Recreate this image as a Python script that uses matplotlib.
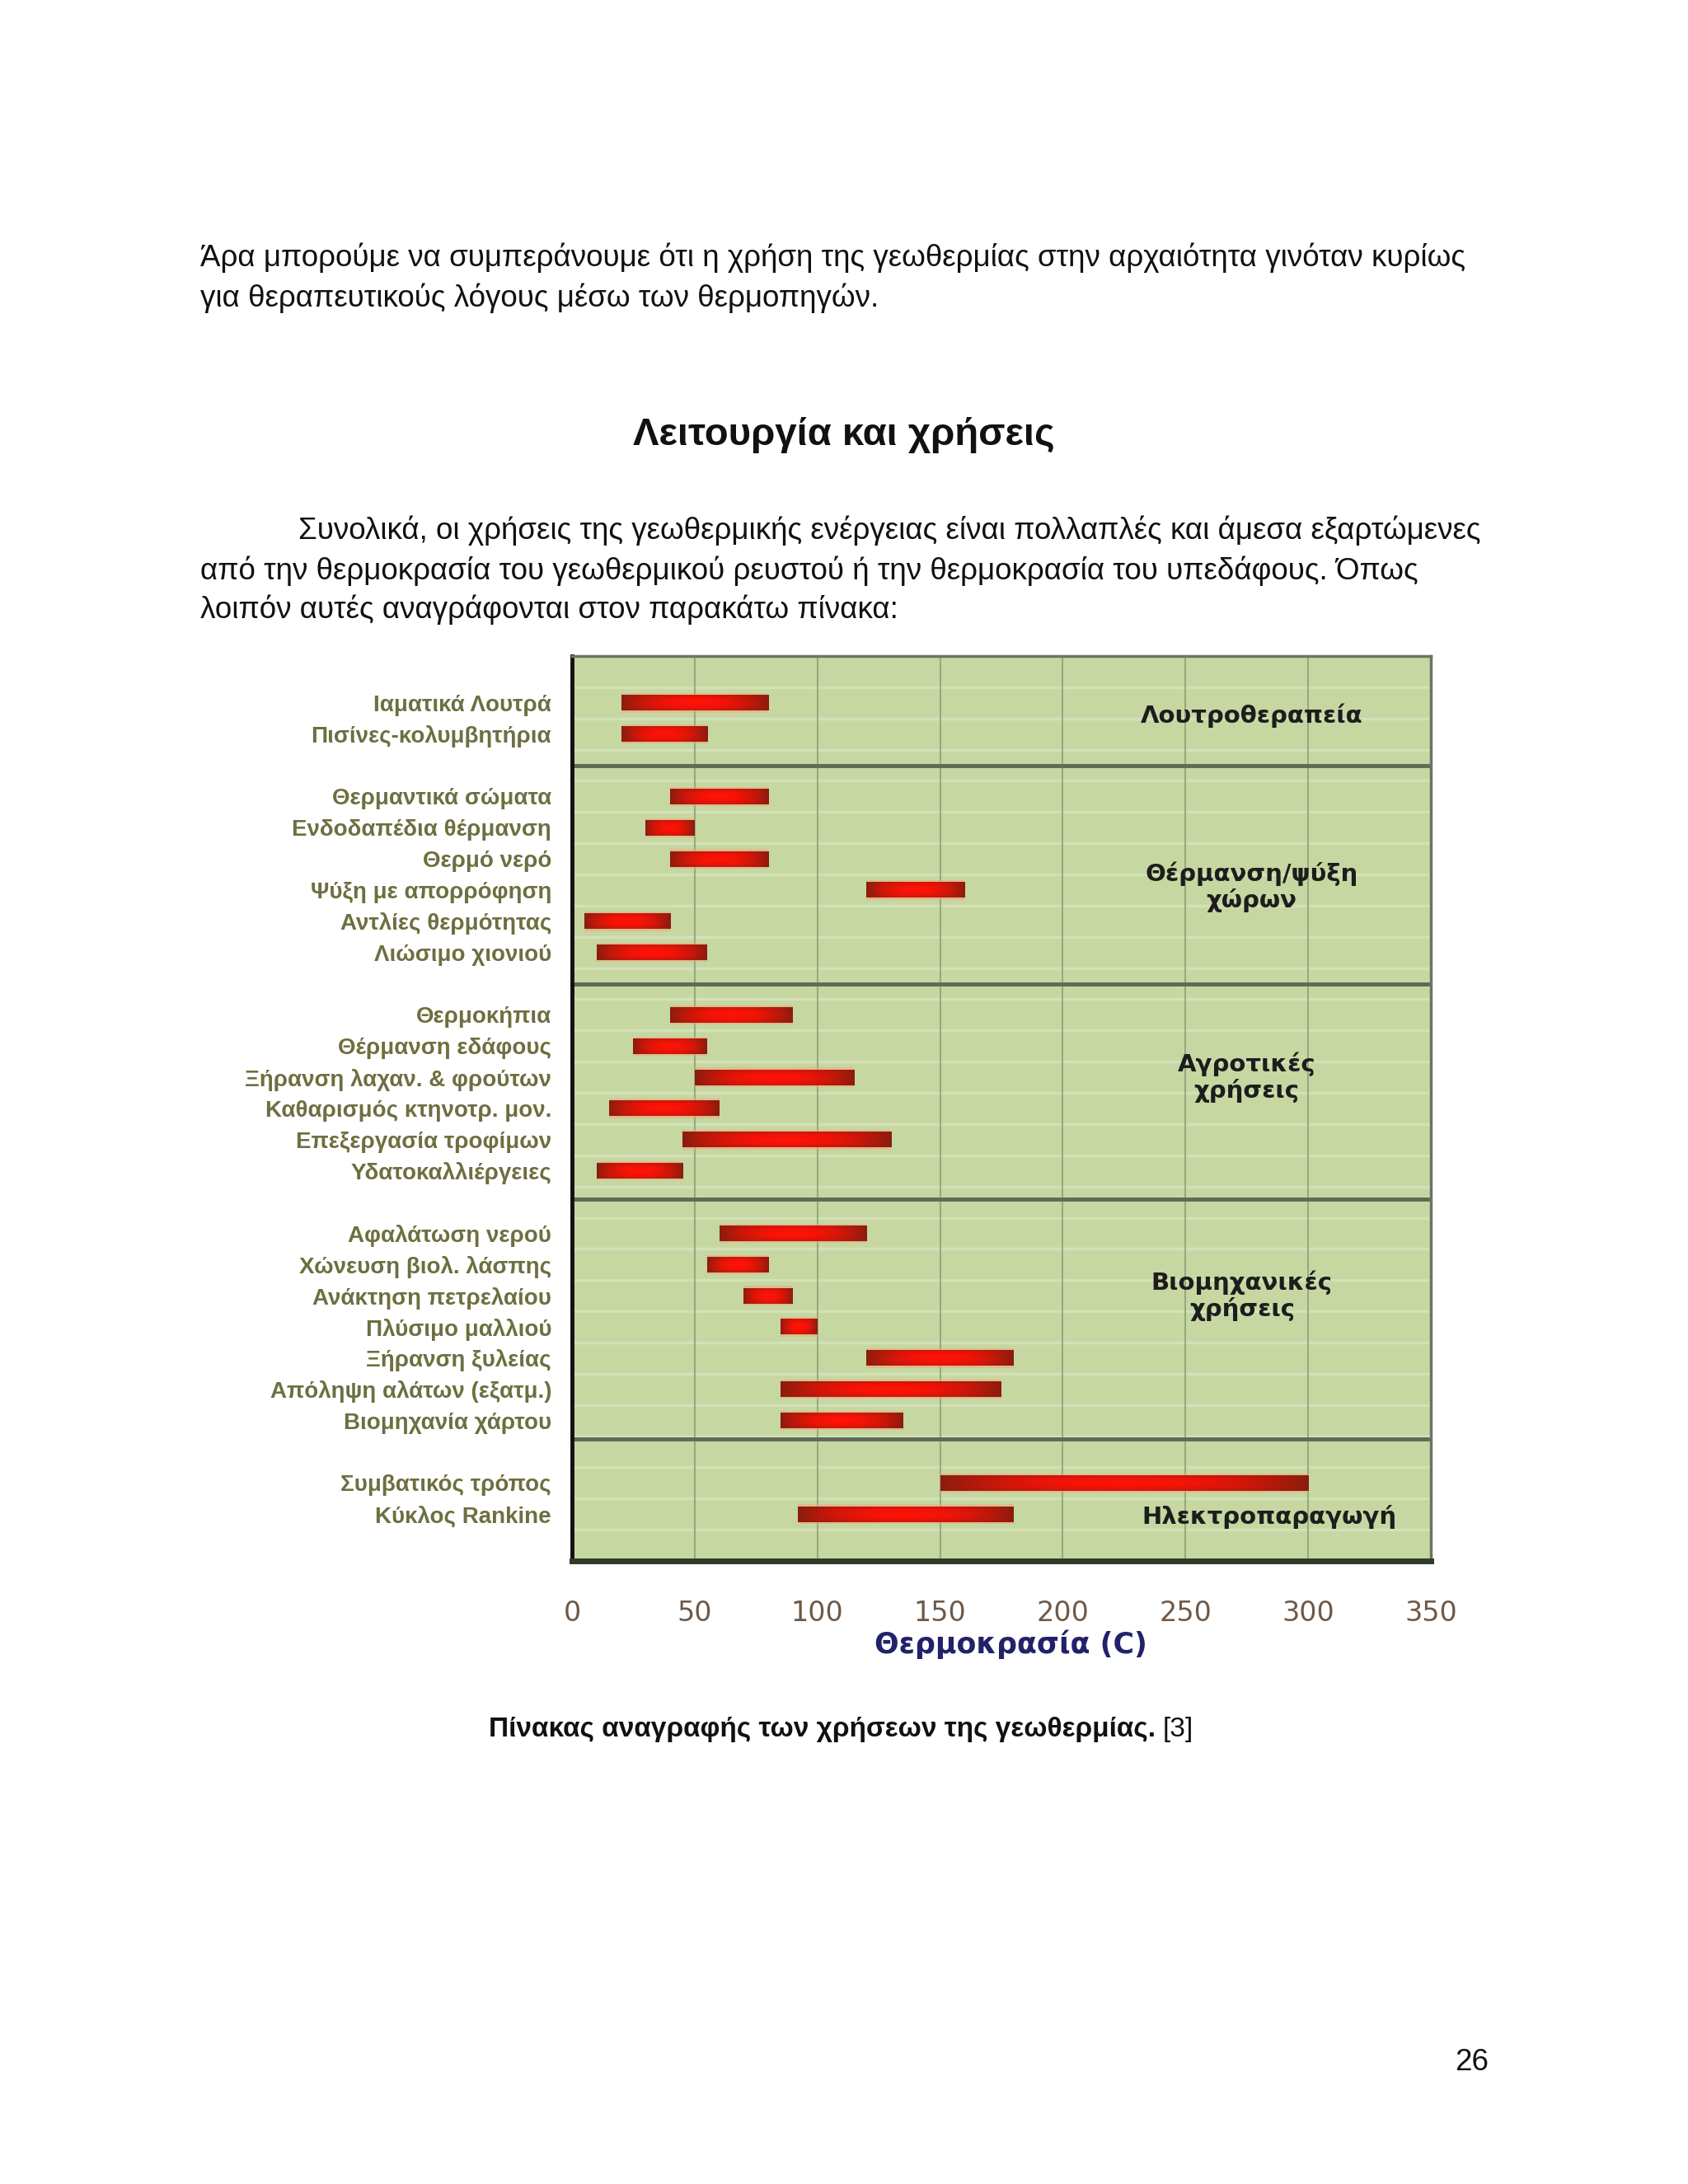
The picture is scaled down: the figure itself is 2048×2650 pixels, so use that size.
import numpy as np
import matplotlib
matplotlib.use("Agg")
import matplotlib.pyplot as plt
from matplotlib.colors import to_rgb

W, H = 2048, 2650

# temperature ranges (°C) of each geothermal use, grouped by category
groups = ["Λουτροθεραπεία", "Θέρμανση/ψύξη\nχώρων", "Αγροτικές\nχρήσεις",
          "Βιομηχανικές\nχρήσεις", "Ηλεκτροπαραγωγή"]
group_sizes = [2, 6, 6, 7, 2]
uses = ["Ιαματικά Λουτρά", "Πισίνες-κολυμβητήρια",
        "Θερμαντικά σώματα", "Ενδοδαπέδια θέρμανση", "Θερμό νερό",
        "Ψύξη με απορρόφηση", "Αντλίες θερμότητας", "Λιώσιμο χιονιού",
        "Θερμοκήπια", "Θέρμανση εδάφους", "Ξήρανση λαχαν. & φρούτων",
        "Καθαρισμός κτηνοτρ. μον.", "Επεξεργασία τροφίμων", "Υδατοκαλλιέργειες",
        "Αφαλάτωση νερού", "Χώνευση βιολ. λάσπης", "Ανάκτηση πετρελαίου",
        "Πλύσιμο μαλλιού", "Ξήρανση ξυλείας", "Απόληψη αλάτων (εξατμ.)",
        "Βιομηχανία χάρτου",
        "Συμβατικός τρόπος", "Κύκλος Rankine"]
t_low = [20, 20,
         40, 30, 40, 120, 5, 10,
         40, 25, 50, 15, 45, 10,
         60, 55, 70, 85, 120, 85, 85,
         150, 92]
t_high = [80, 55,
          80, 50, 80, 160, 40, 55,
          90, 55, 115, 60, 130, 45,
          120, 80, 90, 100, 180, 175, 135,
          300, 180]
xticks = [0, 50, 100, 150, 200, 250, 300, 350]

# layout: one empty slot between groups, separators
group_breaks = [3.5, 10.5, 17.4, 25.1]
group_label_pos = [(277, 1.9), (277, 7.4), (275, 13.5), (273, 20.5), (284, 27.6)]

slots = []
s = 1
for n in group_sizes:
    slots.extend(range(s, s + n))
    s += n + 1
rows_y = np.array(slots) + 0.5
y_max = s

fig = plt.figure(figsize=(W / 100, H / 100), dpi=100)
fig.patch.set_facecolor("white")


def page_text(x, y, txt, **kw):
    return fig.text(x / W, 1 - y / H, txt, **kw)


body = dict(fontsize=26.5, family="Liberation Sans", color="#111111", va="center")
page_text(243, 313, "Άρα μπορούμε να συμπεράνουμε ότι η χρήση της γεωθερμίας "
          "στην αρχαιότητα γινόταν κυρίως", **body)
page_text(243, 362, "για θεραπευτικούς λόγους μέσω των θερμοπηγών.", **body)
page_text(1024, 528, "Λειτουργία και χρήσεις", fontsize=34, fontweight="bold",
          family="Liberation Sans", color="#111111", ha="center", va="center")
page_text(362, 644, "Συνολικά, οι χρήσεις της γεωθερμικής ενέργειας είναι "
          "πολλαπλές και άμεσα εξαρτώμενες", **body)
page_text(243, 693, "από την θερμοκρασία του γεωθερμικού ρευστού ή την "
          "θερμοκρασία του υπεδάφους. Όπως", **body)
page_text(243, 740, "λοιπόν αυτές αναγράφονται στον παρακάτω πίνακα:", **body)
cap = page_text(593, 2099, "Πίνακας αναγραφής των χρήσεων της γεωθερμίας.",
                fontsize=24, fontweight="bold", family="Liberation Sans",
                color="#111111", va="center")
# reference number in regular weight, right after the bold caption
fig.add_artist(matplotlib.text.Annotation(
    "[3]", xy=(1, 0.5), xycoords=cap, xytext=(6, 0), textcoords="offset points",
    fontsize=24, family="Liberation Sans", color="#111111", va="center"))
page_text(1786, 2503, "26", fontsize=26.5, family="Liberation Sans",
          color="#111111", ha="center", va="center")

# chart axes
left, right, top, bottom = 694, 1736, 796, 1894
ax = fig.add_axes([left / W, 1 - bottom / H, (right - left) / W, (bottom - top) / H])
ax.set_facecolor("#c6d7a1")

# faint light stripes between rows
for k in range(1, y_max):
    ax.axhline(k, color="#d3e1b7", lw=2.5, zorder=1)

ax.set_xticks(xticks)
ax.grid(axis="x", color="#8d9f7a", lw=1.2, zorder=2)
for b in group_breaks:
    ax.axhline(b, color="#5e6a55", lw=3.5, zorder=2)

# gradient bars: dark ends, bright red middle
dark = np.array(to_rgb("#8a1d0e"))
bright = np.array(to_rgb("#ff1206"))
U, V = np.meshgrid(np.linspace(-1, 1, 300), np.linspace(-1, 1, 24))
f = (1 - np.abs(U) ** 2.2) * (1 - 0.4 * V ** 2)
grad = dark + (bright - dark) * f[..., None]
bar_h = 0.5
for y, lo, hi in zip(rows_y, t_low, t_high):
    ax.barh(y, hi - lo, left=lo, height=bar_h + 0.12, color="#f2a27c",
            alpha=0.5, lw=0, zorder=3)
    ax.imshow(grad, extent=(lo, hi, y + bar_h / 2, y - bar_h / 2),
              aspect="auto", interpolation="bilinear", zorder=4)

for name, (gx, gy) in zip(groups, group_label_pos):
    ax.text(gx, gy, name, ha="center", va="center", multialignment="center",
            fontsize=21, fontweight="bold", family="DejaVu Sans",
            color="#1d1d1d", linespacing=1.15, zorder=5)

ax.set_xlim(0, 350)
ax.set_ylim(y_max, 0)
ax.set_yticks(rows_y)
ax.set_yticklabels(uses, family="Liberation Sans", fontweight="bold")
ax.tick_params(axis="y", length=0, pad=18, labelsize=20, labelcolor="#6e6f40")
ax.tick_params(axis="x", length=0, pad=34, labelsize=24, labelcolor="#6d5949")
ax.set_xlabel("Θερμοκρασία (C)", fontsize=25, fontweight="bold",
              color="#22226a", va="center")
ax.xaxis.set_label_coords(0.511, -0.092)

for side in ["top", "right"]:
    ax.spines[side].set_color("#6b7562")
    ax.spines[side].set_linewidth(2.5)
ax.spines["left"].set_color("#111111")
ax.spines["left"].set_linewidth(3.5)
ax.spines["bottom"].set_color("#2f3a2a")
ax.spines["bottom"].set_linewidth(5)

fig.savefig("out.png", dpi=100, facecolor="white")
